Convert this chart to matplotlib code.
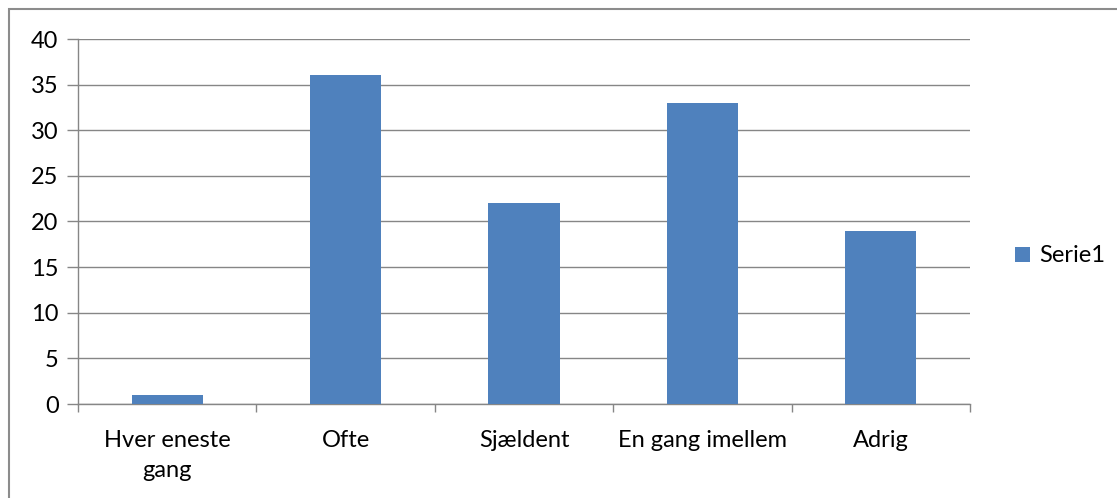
import matplotlib.pyplot as plt
from matplotlib.patches import Rectangle

categories = ['Hver eneste\ngang', 'Ofte', 'Sjældent', 'En gang imellem', 'Adrig']
values = [1, 36, 22, 33, 19]
series_name = 'Serie1'

plt.rcParams['font.family'] = ['Lato', 'DejaVu Sans']

W, H = 1117, 498
fig = plt.figure(figsize=(W / 100, H / 100), dpi=100)

# outer chart border (right and bottom run off the image)
fig.patches.append(Rectangle((9 / W, -0.2), 1.2, 1.2 - 9 / H, transform=fig.transFigure,
                             fill=False, edgecolor='#8c8c8c', linewidth=1.5))

ax = fig.add_axes([78 / W, 1 - 404 / H, (970 - 78) / W, (404 - 39) / H])
x = range(len(categories))
ax.bar(x, values, width=0.4, color='#4F81BD', label=series_name, zorder=3)

ax.set_xlim(-0.5, len(categories) - 0.5)
ax.set_ylim(0, 40)
ax.set_yticks(range(0, 41, 5))
ax.yaxis.grid(True, color='#868686', linewidth=1, zorder=0)

ax.set_xticks(x)
ax.set_xticklabels(categories, fontsize=17, linespacing=1.5)
ax.set_xticks([i - 0.5 for i in range(len(categories) + 1)], minor=True)
ax.tick_params(axis='x', which='major', length=0, pad=19)
ax.tick_params(axis='x', which='minor', length=6, color='#868686', width=1)
ax.tick_params(axis='y', length=8, color='#868686', width=1, labelsize=17, pad=6)

for s in ['top', 'right']:
    ax.spines[s].set_visible(False)
for s in ['left', 'bottom']:
    ax.spines[s].set_color('#868686')
    ax.spines[s].set_linewidth(1)

ax.legend(loc='center left', bbox_to_anchor=(1006 / W, 1 - 256 / H),
          bbox_transform=fig.transFigure, frameon=False, borderaxespad=0,
          fontsize=17, handlelength=0.6, handleheight=0.6, handletextpad=0.4)

fig.savefig('out.png', dpi=100)
